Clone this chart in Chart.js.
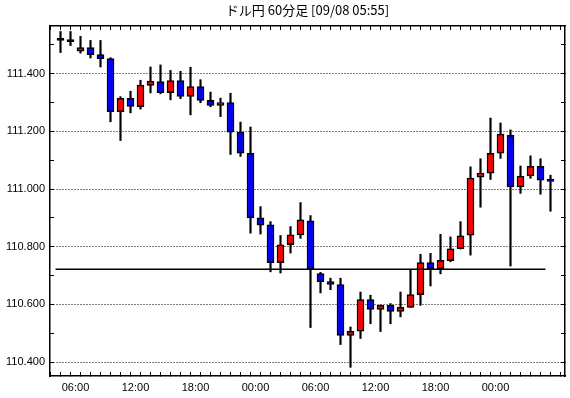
<!DOCTYPE html>
<html>
<head>
<meta charset="utf-8">
<script src="https://cdn.jsdelivr.net/npm/chart.js@4.4.0/dist/chart.umd.min.js"></script>
<style>
  html, body { margin: 0; padding: 0; background: #fff; }
  canvas { display: block; }
</style>
</head>
<body>
<canvas id="usdjpy-60m" width="570" height="398"></canvas>
<script>
const chartTitle = "ドル円 60分足 [09/08 05:55]";

// hourly candles, oldest first
const opens = [
  111.515, 111.511, 111.478, 111.490, 111.466, 111.452, 111.268, 111.314, 111.285, 111.359,
  111.372, 111.334, 111.376, 111.321, 111.355, 111.307, 111.290, 111.300, 111.197, 111.124,
  110.900, 110.876, 110.745, 110.807, 110.841, 110.890, 110.707, 110.679, 110.669, 110.493,
  110.507, 110.617, 110.583, 110.597, 110.576, 110.590, 110.634, 110.745, 110.723, 110.752,
  110.793, 110.840, 111.041, 111.055, 111.124, 111.186, 111.007, 111.045, 111.079, 111.034
];
const highs = [
  111.546, 111.546, 111.529, 111.515, 111.515, 111.455, 111.320, 111.339, 111.377, 111.423,
  111.430, 111.411, 111.408, 111.422, 111.379, 111.336, 111.315, 111.332, 111.232, 111.215,
  110.939, 110.887, 110.839, 110.870, 110.953, 110.908, 110.711, 110.691, 110.691, 110.522,
  110.643, 110.632, 110.598, 110.603, 110.643, 110.722, 110.774, 110.777, 110.843, 110.834,
  110.887, 111.077, 111.105, 111.246, 111.229, 111.205, 111.080, 111.115, 111.105, 111.048
];
const lows = [
  111.473, 111.497, 111.471, 111.454, 111.423, 111.233, 111.168, 111.264, 111.277, 111.333,
  111.330, 111.309, 111.313, 111.257, 111.299, 111.285, 111.251, 111.120, 111.113, 110.847,
  110.844, 110.713, 110.709, 110.778, 110.829, 110.520, 110.640, 110.651, 110.461, 110.382,
  110.482, 110.533, 110.506, 110.533, 110.557, 110.590, 110.597, 110.664, 110.706, 110.748,
  110.792, 110.771, 110.937, 111.033, 111.106, 110.733, 110.985, 111.037, 110.982, 110.923
];
const closes = [
  111.515, 111.511, 111.490, 111.466, 111.452, 111.268, 111.314, 111.286, 111.360, 111.374,
  111.334, 111.376, 111.321, 111.355, 111.307, 111.290, 111.300, 111.197, 111.124, 110.900,
  110.875, 110.745, 110.807, 110.841, 110.893, 110.722, 110.679, 110.669, 110.493, 110.507,
  110.617, 110.583, 110.597, 110.576, 110.590, 110.634, 110.745, 110.723, 110.753, 110.793,
  110.838, 111.038, 111.055, 111.124, 111.190, 111.007, 111.045, 111.079, 111.031, 111.026
];

// horizontal reference level
const refLevel = 110.722;

// x labels sit on every 6th hour boundary, the first one 1.5 candles in
const timeLabels = ["06:00", "12:00", "18:00", "00:00", "06:00", "12:00", "18:00", "00:00"];
const firstLabelAt = 1.5;

const priceTicks = [110.4, 110.5, 110.6, 110.7, 110.8, 110.9, 111.0, 111.1, 111.2, 111.3, 111.4, 111.5];
const priceLabels = [110.4, 110.6, 110.8, 111.0, 111.2, 111.4];

const UP = "#FF0000";
const DOWN = "#0000FF";

Chart.defaults.font.family = "'Liberation Sans', Arial, sans-serif";
Chart.defaults.font.size = 11;
Chart.defaults.color = "#000";

const candleColor = (i) => {
  if (closes[i] > opens[i]) return UP;
  if (closes[i] < opens[i]) return DOWN;
  return "#000";
};

const bodies = opens.map((o, i) => ({ x: i, y: [o, closes[i]] }));
const wicks = lows.map((l, i) => ({ x: i, y: [l, highs[i]] }));
// hour boundaries between candles
const hourTicks = opens.map((_, i) => i - 0.5).concat([opens.length - 0.5]);

const hourLabel = (value) => {
  const k = (value - firstLabelAt) / 6;
  if (Number.isInteger(k) && k >= 0 && k < timeLabels.length) return timeLabels[k];
  return "";
};

// no extra room for overflowing labels, the frame is fixed
const noLabelPadding = (scale) => {
  scale.paddingLeft = 0;
  scale.paddingRight = 0;
  scale.paddingTop = 0;
  scale.paddingBottom = 0;
};

const frame = { display: true, color: "#000", width: 1.5 };
const xMin = -1.05;
const xMax = 50.45;

const config = {
  type: "bar",
  data: {
    datasets: [
      {
        type: "line",
        data: [
          { x: -0.5, y: refLevel },
          { x: opens.length - 1.5, y: refLevel }
        ],
        borderColor: "#000",
        borderWidth: 1.5,
        pointRadius: 0,
        order: 0
      },
      {
        data: bodies,
        backgroundColor: opens.map((_, i) => candleColor(i)),
        borderColor: "#000",
        borderWidth: 1.5,
        borderSkipped: false,
        barThickness: 7,
        minBarLength: 2,
        grouped: false,
        order: 1
      },
      {
        data: wicks,
        backgroundColor: "#000",
        borderWidth: 0,
        barThickness: 1.5,
        grouped: false,
        order: 2
      }
    ]
  },
  options: {
    responsive: false,
    animation: false,
    layout: { padding: 0 },
    plugins: {
      legend: { display: false },
      tooltip: { enabled: false },
      title: { display: false }
    },
    scales: {
      x: {
        type: "linear",
        position: "bottom",
        offset: false,
        min: xMin,
        max: xMax,
        afterBuildTicks: (scale) => {
          scale.ticks = hourTicks.map((v) => ({ value: v }));
        },
        afterFit: (scale) => {
          scale.height = 22;
          noLabelPadding(scale);
        },
        grid: { drawOnChartArea: false, tickLength: -4, tickColor: "#000", tickWidth: 1 },
        border: frame,
        ticks: {
          autoSkip: false,
          maxRotation: 0,
          padding: 9,
          callback: (value) => hourLabel(value)
        }
      },
      xTop: {
        type: "linear",
        position: "top",
        offset: false,
        min: xMin,
        max: xMax,
        afterBuildTicks: (scale) => {
          scale.ticks = hourTicks.map((v) => ({ value: v }));
        },
        afterFit: (scale) => {
          scale.height = 26;
          noLabelPadding(scale);
        },
        grid: { drawOnChartArea: false, tickLength: -4, tickColor: "#000", tickWidth: 1 },
        border: frame,
        ticks: { display: false },
        title: {
          display: true,
          text: chartTitle,
          color: "#000",
          font: { family: "'Noto Sans CJK JP', sans-serif", size: 13 },
          padding: { top: 2, bottom: 0 }
        }
      },
      y: {
        position: "left",
        min: 110.352,
        max: 111.565,
        afterBuildTicks: (scale) => {
          scale.ticks = priceTicks.map((v) => ({ value: v }));
        },
        afterFit: (scale) => {
          scale.width = 50;
          noLabelPadding(scale);
        },
        grid: {
          color: (ctx) => (priceLabels.includes(ctx.tick.value) ? "#000" : "rgba(0,0,0,0)"),
          lineWidth: 1,
          tickColor: "#000",
          tickLength: -4
        },
        border: { display: true, color: "#000", width: 1.5, dash: [1, 2] },
        ticks: {
          padding: 9,
          autoSkip: false,
          callback: (value) => (priceLabels.includes(value) ? value.toFixed(3) : "")
        }
      },
      yRight: {
        position: "right",
        min: 110.352,
        max: 111.565,
        afterBuildTicks: (scale) => {
          scale.ticks = priceTicks.map((v) => ({ value: v }));
        },
        afterFit: (scale) => {
          scale.width = 5;
          noLabelPadding(scale);
        },
        grid: { drawOnChartArea: false, tickColor: "#000", tickLength: -4 },
        border: frame,
        ticks: { display: false }
      }
    }
  }
};

new Chart(document.getElementById("usdjpy-60m").getContext("2d"), config);
</script>
</body>
</html>
